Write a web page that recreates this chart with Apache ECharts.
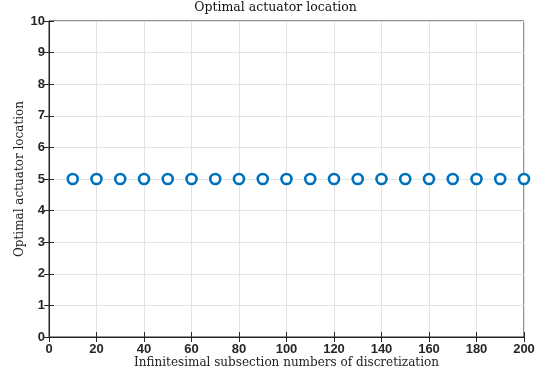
<!DOCTYPE html>
<html>
<head>
<meta charset="utf-8">
<script src="https://cdn.jsdelivr.net/npm/echarts@6/dist/echarts.min.js"></script>
<style>
  html, body { margin: 0; padding: 0; background: #fff; }
  #chart { width: 551px; height: 373px; }
</style>
</head>
<body>
<div id="chart"></div>
<script>
// subsection numbers and the optimal location found for each
const subsections = [10, 20, 30, 40, 50, 60, 70, 80, 90, 100, 110, 120, 130, 140, 150, 160, 170, 180, 190, 200]
const optimalLocation = [5, 5, 5, 5, 5, 5, 5, 5, 5, 5, 5, 5, 5, 5, 5, 5, 5, 5, 5, 5]

const points = subsections.map((x, i) => [x, optimalLocation[i]])

const axisColor = '#262626'
const tickFont = {
    fontFamily: 'Liberation Sans, Arial, sans-serif',
    fontWeight: 'bold',
    fontSize: 13,
    color: axisColor
}
const serif = 'DejaVu Serif, serif'

const chart = echarts.init(document.getElementById('chart'))

const option = {
    animation: false,
    title: {
        text: 'Optimal actuator location',
        left: 'center',
        top: -4,
        textStyle: { fontFamily: serif, fontWeight: 'normal', fontSize: 12.5, color: '#111' }
    },
    grid: {
        left: 49, right: 27, top: 21, bottom: 36,
        outerBoundsMode: 'none',
        show: true, borderColor: axisColor, borderWidth: 1, backgroundColor: 'transparent'
    },
    xAxis: [
        {
            type: 'value',
            min: 0, max: 200, interval: 20,
            name: 'Infinitesimal subsection numbers of discretization',
            nameLocation: 'middle',
            nameGap: 20,
            nameMoveOverlap: false,
            nameTextStyle: { fontFamily: serif, fontSize: 12, color: '#222' },
            axisLine: { lineStyle: { color: axisColor, width: 1 } },
            axisTick: { inside: true, length: 5, lineStyle: { color: axisColor } },
            axisLabel: Object.assign({ margin: 6 }, tickFont),
            splitLine: { show: true, lineStyle: { color: '#e3e3e3' } }
        },
        {
            type: 'value', position: 'top',
            min: 0, max: 200, interval: 20,
            axisLine: { lineStyle: { color: axisColor } },
            axisTick: { inside: true, length: 5, lineStyle: { color: axisColor } },
            axisLabel: { show: false },
            splitLine: { show: false }
        }
    ],
    yAxis: [
        {
            type: 'value',
            min: 0, max: 10, interval: 1,
            name: 'Optimal actuator location',
            nameLocation: 'middle',
            nameGap: 23,
            nameMoveOverlap: false,
            nameTextStyle: { fontFamily: serif, fontSize: 12, color: '#222' },
            axisLine: { show: true, lineStyle: { color: axisColor, width: 1 } },
            axisTick: { show: true, inside: true, length: 5, lineStyle: { color: axisColor } },
            axisLabel: Object.assign({ margin: 4 }, tickFont),
            splitLine: { show: true, lineStyle: { color: '#e3e3e3' } }
        },
        {
            type: 'value', position: 'right',
            min: 0, max: 10, interval: 1,
            axisLine: { show: true, lineStyle: { color: axisColor } },
            axisTick: { show: true, inside: true, length: 5, lineStyle: { color: axisColor } },
            axisLabel: { show: false },
            splitLine: { show: false }
        }
    ],
    series: [
        {
            type: 'scatter',
            data: points,
            symbol: 'circle',
            symbolSize: 10,
            itemStyle: { color: '#fff', opacity: 1, borderColor: '#0072BD', borderWidth: 2.6 }
        }
    ]
}

chart.setOption(option)
</script>
</body>
</html>
